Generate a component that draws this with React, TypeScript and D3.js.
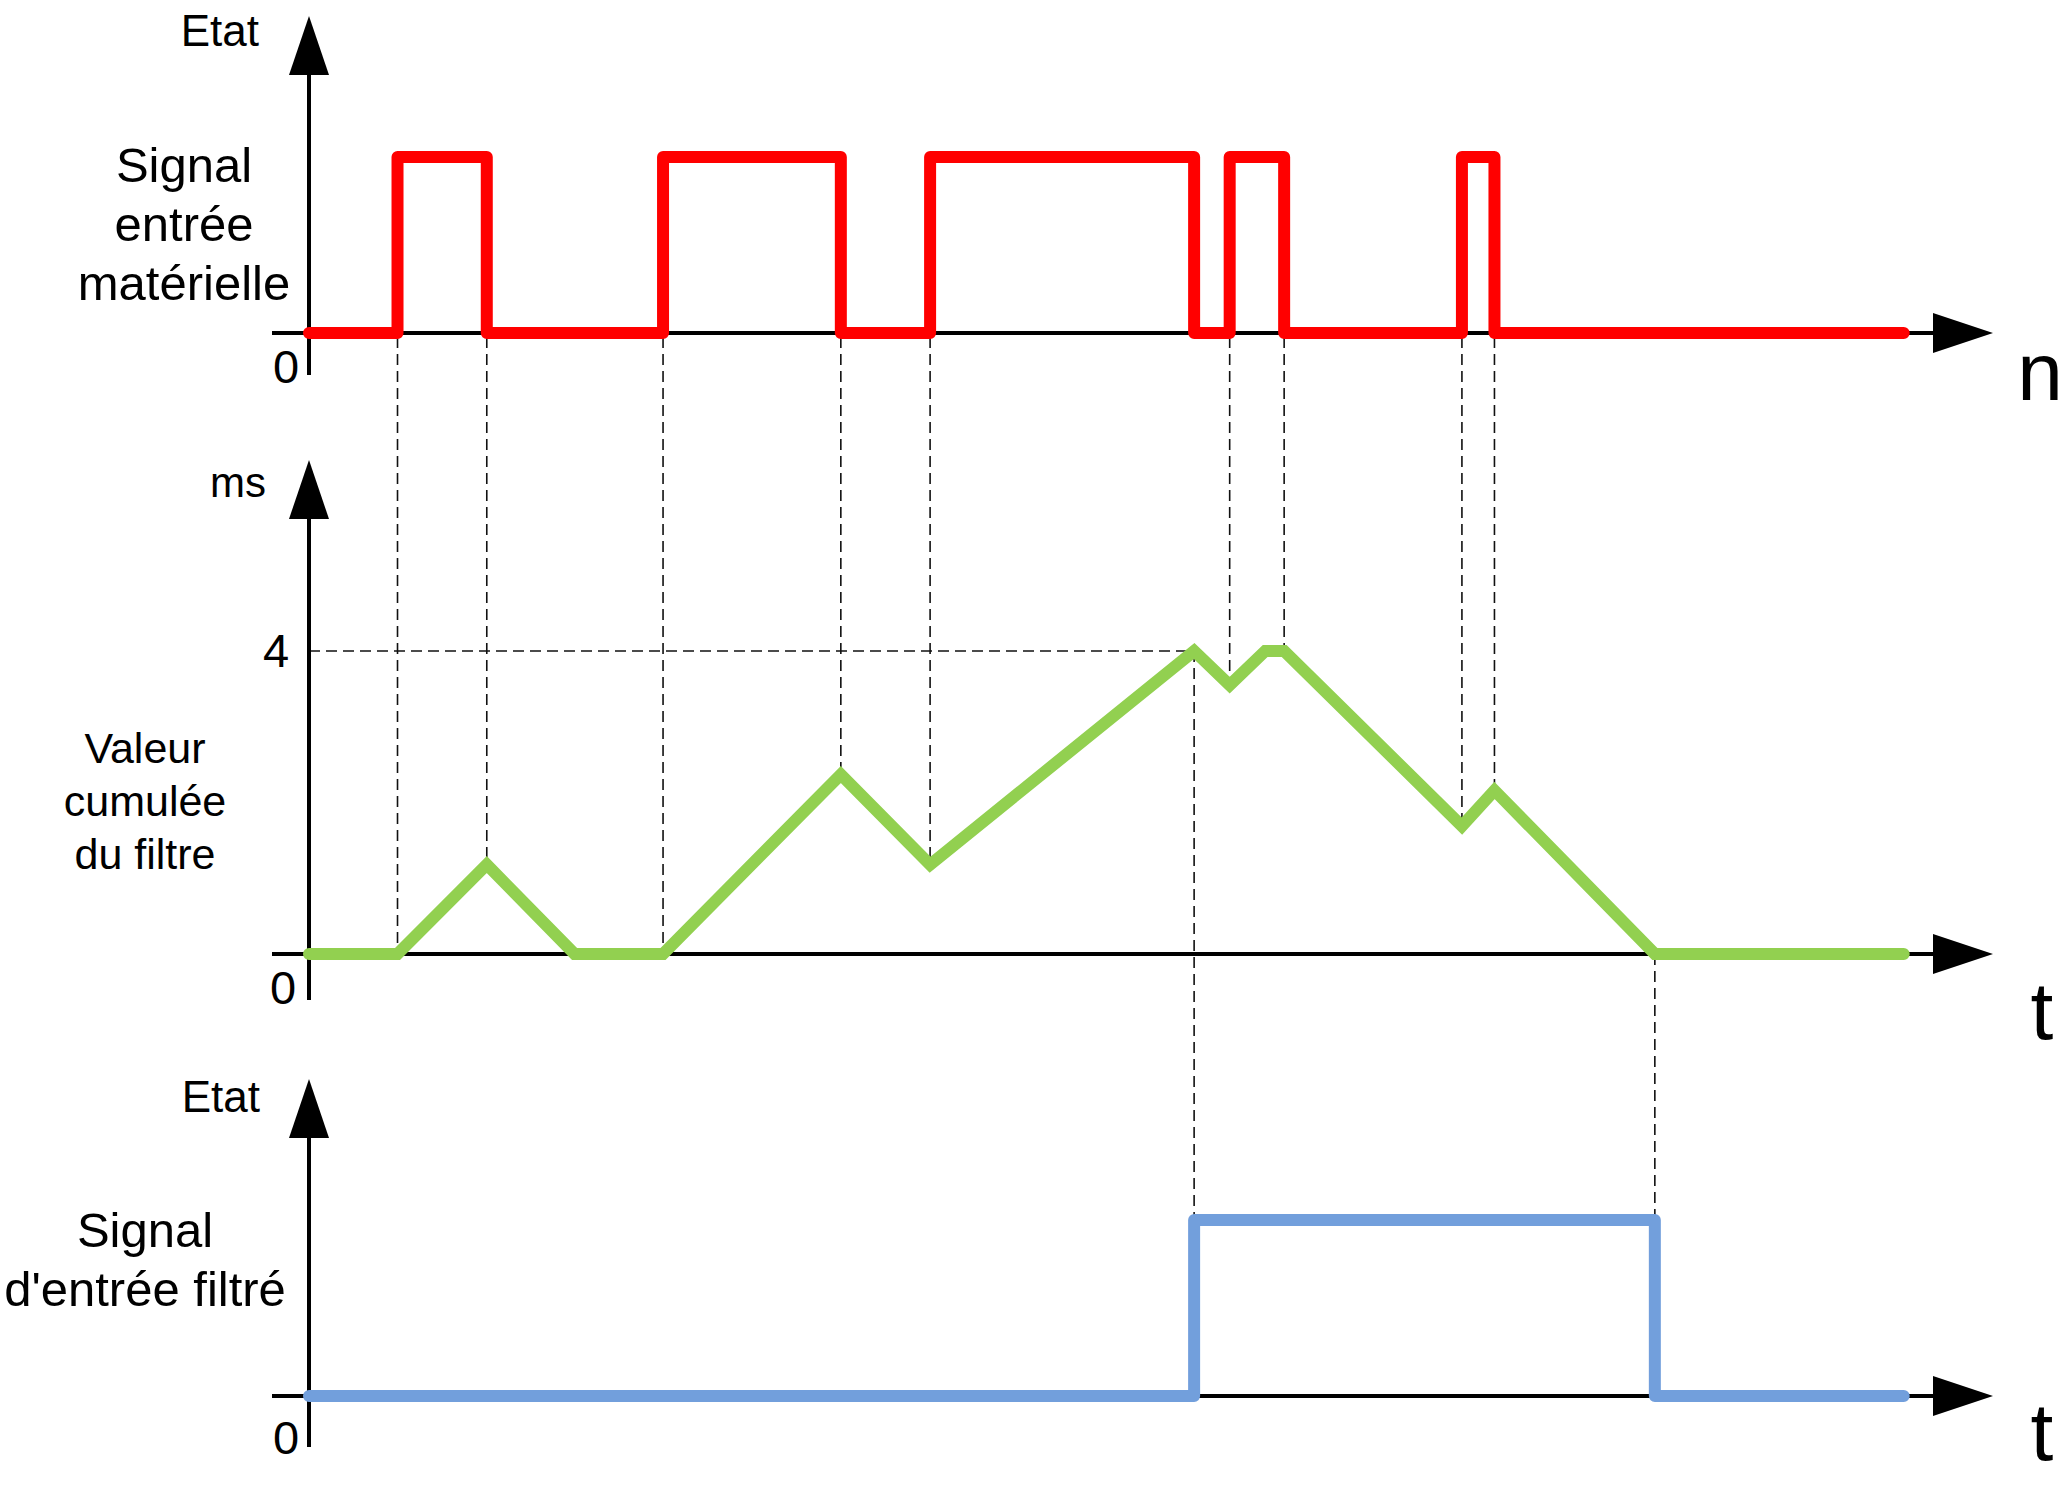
import React from "react";
import * as d3 from "d3";

// ---- data (time in ms) ----
const redPulses: [number, number][] = [
  [1.17, 2.35],
  [4.68, 7.03],
  [8.21, 11.7],
  [12.17, 12.89],
  [15.24, 15.67],
];
const tEnd = 21.08;
const tAxisEnd = 22.26;

const greenTimes = [0, 1.17, 2.35, 3.51, 4.68, 7.03, 8.21, 11.7, 12.17, 12.64, 12.89, 15.24, 15.67, 17.79, 21.08];
const greenValues = [0, 0, 1.18, 0, 0, 2.37, 1.18, 4, 3.55, 4, 4, 1.69, 2.16, 0, 0];

const bluePulse: [number, number] = [11.7, 17.79];

const threshold = 4;

const topLabel = ["Signal", "entrée", "matérielle"];
const midLabel = ["Valeur", "cumulée", "du filtre"];
const botLabel = ["Signal", "d'entrée filtré"];

// ---- layout ----
const W = 2063;
const H = 1486;
const axisX = 309;
const FONT = "'Liberation Sans', Arial, sans-serif";

const x = d3.scaleLinear().domain([0, tAxisEnd]).range([axisX, 1993]);

// panels
const yTop = d3.scaleLinear().domain([0, 1]).range([333, 157]);
const yMid = d3.scaleLinear().domain([0, threshold]).range([954, 651]);
const yBot = d3.scaleLinear().domain([0, 1]).range([1396, 1220]);

const greenAt = d3.scaleLinear().domain(greenTimes).range(greenValues);

function stepPoints(pulses: [number, number][], end: number): [number, number][] {
  const pts: [number, number][] = [[0, 0]];
  pulses.forEach(([a, b]) => {
    pts.push([a, 0], [a, 1], [b, 1], [b, 0]);
  });
  pts.push([end, 0]);
  return pts;
}

function Axis({ baseY, tipY, bottomY }: { baseY: number; tipY: number; bottomY: number }) {
  const ah = 59; // arrow length
  const hw = 20; // arrow half width
  return (
    <g>
      <line x1={axisX} y1={tipY + ah - 2} x2={axisX} y2={bottomY} stroke="#000" strokeWidth={4} />
      <polygon points={`${axisX},${tipY} ${axisX - hw},${tipY + ah} ${axisX + hw},${tipY + ah}`} fill="#000" />
      <line x1={272} y1={baseY} x2={1933} y2={baseY} stroke="#000" strokeWidth={4} />
      <polygon points={`${1993},${baseY} ${1933},${baseY - hw} ${1933},${baseY + hw}`} fill="#000" />
    </g>
  );
}

export default function App() {
  const lineTop = d3.line<[number, number]>().x((d) => x(d[0])).y((d) => yTop(d[1]));
  const lineBot = d3.line<[number, number]>().x((d) => x(d[0])).y((d) => yBot(d[1]));
  const lineMid = d3.line<number>().x((d) => x(d)).y((_, i) => yMid(greenValues[i]));

  const redPts = stepPoints(redPulses, tEnd);
  const bluePts = stepPoints([bluePulse], tEnd);

  // dashed connectors
  const redEdges = redPulses.flat().filter((t) => t !== bluePulse[0]);
  const dash = { stroke: "#111", strokeWidth: 1.6, strokeDasharray: "11,6", fill: "none" };

  return (
    <svg
      width={W}
      height={H}
      style={{ position: "absolute", left: 0, top: 0, background: "#fff" }}
      fontFamily={FONT}
    >
      <rect width={W} height={H} fill="#fff" />

      {/* dashed guides */}
      {redEdges.map((t, i) => (
        <line key={"d" + i} x1={x(t)} x2={x(t)} y1={yTop(0) + 4} y2={yMid(greenAt(t))} {...dash} />
      ))}
      <line x1={axisX} x2={x(bluePulse[0])} y1={yMid(threshold)} y2={yMid(threshold)} {...dash} />
      {bluePulse.map((t, i) => (
        <line key={"b" + i} x1={x(t)} x2={x(t)} y1={yMid(greenAt(t))} y2={yBot(1)} {...dash} />
      ))}

      {/* axes */}
      <Axis baseY={yTop(0)} tipY={16} bottomY={375} />
      <Axis baseY={yMid(0)} tipY={460} bottomY={1000} />
      <Axis baseY={yBot(0)} tipY={1079} bottomY={1447} />

      {/* signals */}
      <path d={lineTop(redPts) || ""} fill="none" stroke="#ff0000" strokeWidth={12} strokeLinejoin="round" strokeLinecap="round" />
      <path d={lineMid(greenTimes) || ""} fill="none" stroke="#92d050" strokeWidth={12} strokeLinejoin="miter" strokeMiterlimit={3} strokeLinecap="round" />
      <path d={lineBot(bluePts) || ""} fill="none" stroke="#729fdc" strokeWidth={12} strokeLinejoin="round" strokeLinecap="round" />

      {/* top panel text */}
      <text x={259} y={46} fontSize={44} textAnchor="end">Etat</text>
      {topLabel.map((s, i) => (
        <text key={s} x={184} y={182 + i * 59} fontSize={49} textAnchor="middle">{s}</text>
      ))}
      <text x={286} y={383} fontSize={47} textAnchor="middle">0</text>
      <text x={2040} y={400} fontSize={82} textAnchor="middle">n</text>

      {/* middle panel text */}
      <text x={266} y={497} fontSize={42} textAnchor="end">ms</text>
      <text x={276} y={667} fontSize={47} textAnchor="middle">4</text>
      {midLabel.map((s, i) => (
        <text key={s} x={145} y={763 + i * 53} fontSize={43} textAnchor="middle">{s}</text>
      ))}
      <text x={283} y={1004} fontSize={47} textAnchor="middle">0</text>
      <text x={2042} y={1039} fontSize={82} textAnchor="middle">t</text>

      {/* bottom panel text */}
      <text x={260} y={1112} fontSize={44} textAnchor="end">Etat</text>
      {botLabel.map((s, i) => (
        <text key={s} x={145} y={1247 + i * 59} fontSize={49} textAnchor="middle">{s}</text>
      ))}
      <text x={286} y={1454} fontSize={47} textAnchor="middle">0</text>
      <text x={2042} y={1460} fontSize={82} textAnchor="middle">t</text>
    </svg>
  );
}
